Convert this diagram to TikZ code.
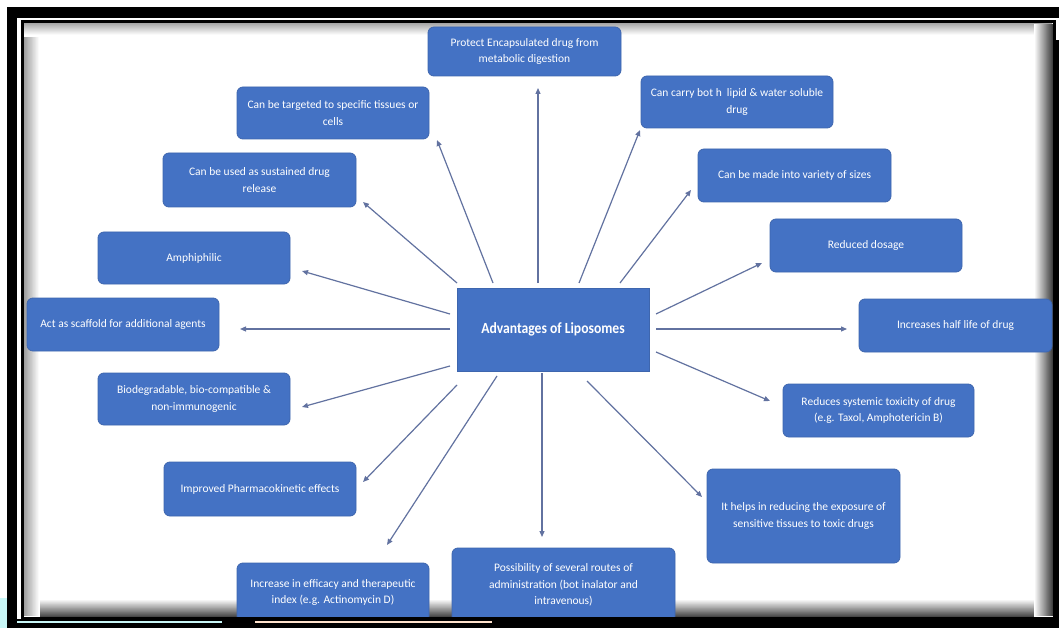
\documentclass[tikz,border=0pt]{standalone}
\usepackage{fontspec}
\setmainfont{Carlito}
\newfontfamily\hubfont{Carlito}[FakeStretch=0.88]
\usetikzlibrary{arrows.meta}
\definecolor{boxblue}{HTML}{4472C4}
\definecolor{boxedge}{HTML}{3E66AE}
\definecolor{arrowc}{HTML}{6272A0}
\definecolor{cyanbg}{HTML}{C8F6F6}
\definecolor{peachbg}{HTML}{FFE2CC}
\tikzset{
  adv/.style={draw=boxedge, line width=0.8pt, fill=boxblue, rounded corners=6pt,
    text=white, align=center, inner sep=2pt,
    font=\fontsize{11.5}{16.5}\selectfont},
  hub/.style={draw=boxedge, line width=0.8pt, fill=boxblue, text=white,
    minimum width=192pt, minimum height=83pt,
    font=\hubfont\fontsize{15.5}{18}\selectfont\bfseries},
  link/.style={draw=arrowc, line width=1.2pt, -{Triangle[length=6pt,width=5pt]}}
}
\begin{document}
\begin{tikzpicture}[x=1pt,y=-1pt]
\useasboundingbox (0,0) rectangle (1059,628);
\fill[white] (0,0) rectangle (1059,628);
% inner shadows drawn as stacked lines
\foreach \k in {0,...,16} {
  \pgfmathtruncatemacro\c{42-\k*42/16}
  \draw[black!\c, line width=1.05pt] (24+\k,24) -- (24+\k,616);
}
\foreach \k in {0,...,12} {
  \pgfmathtruncatemacro\c{35-\k*35/12}
  \draw[black!\c, line width=1.05pt] (24,24+\k) -- (1052,24+\k);
}
\foreach \k in {0,...,18} {
  \pgfmathtruncatemacro\c{75-\k*75/18}
  \draw[black!\c, line width=1.05pt] (1052.5-\k,24) -- (1052.5-\k,616);
}
\foreach \k in {0,...,17} {
  \pgfmathtruncatemacro\c{72-\k*72/17}
  \draw[black!\c, line width=1.05pt] (40,616-\k) -- (1034,616-\k);
}

% center
\node[hub] (ctr) at (553,329.5) {Advantages of Liposomes};

% boxes
\node[adv, minimum width=193pt, minimum height=49pt] (prot) at (524.5,51.5) {Protect Encapsulated drug from\\metabolic digestion};
\node[adv, minimum width=192pt, minimum height=52pt] (targ) at (333,113) {Can be targeted to specific tissues or\\cells};
\node[adv, minimum width=193pt, minimum height=54pt] (sust) at (259.5,180) {Can be used as sustained drug\\release};
\node[adv, minimum width=192pt, minimum height=52pt] (carry) at (737,102) {Can carry bot h\ \ lipid \& water soluble\\drug};
\node[adv, minimum width=193pt, minimum height=53pt] (size) at (794.5,175.5) {Can be made into variety of sizes};
\node[adv, minimum width=192pt, minimum height=53pt] (dose) at (866,245.5) {Reduced dosage};
\node[adv, minimum width=193pt, minimum height=53pt] (half) at (955.5,325.5) {Increases half life of drug};
\node[adv, minimum width=191pt, minimum height=53pt] (tox) at (878.5,410.5) {Reduces systemic toxicity of drug\\(e.g. Taxol, Amphotericin B)};
\node[adv, minimum width=193pt, minimum height=94pt] (expo) at (803.5,516) {It helps in reducing the exposure of\\sensitive tissues to toxic drugs};
\node[adv, minimum width=223pt, minimum height=74pt] (route) at (563.5,585) {Possibility of several routes of\\administration (bot inalator and\\intravenous)};
\node[adv, minimum width=192pt, minimum height=59pt] (effi) at (333,592.5) {Increase in efficacy and therapeutic\\index (e.g. Actinomycin D)};
\node[adv, minimum width=192pt, minimum height=54pt] (pk) at (260,489) {Improved Pharmacokinetic effects};
\node[adv, minimum width=192pt, minimum height=52pt] (bio) at (194,399) {Biodegradable, bio-compatible \&\\non-immunogenic};
\node[adv, minimum width=192pt, minimum height=53pt] (scaf) at (123,324.5) {Act as scaffold for additional agents};
\node[adv, minimum width=192pt, minimum height=52pt] (amph) at (194,258) {Amphiphilic};

% connector end points
\coordinate (s1) at (538,283);  \coordinate (e1) at (538,88);
\coordinate (s2) at (493,283);  \coordinate (e2) at (437,140);
\coordinate (s3) at (457,283);  \coordinate (e3) at (363,202);
\coordinate (s4) at (450,314);  \coordinate (e4) at (302,271);
\coordinate (s5) at (450,329);  \coordinate (e5) at (240,329);
\coordinate (s6) at (450,366);  \coordinate (e6) at (302,407);
\coordinate (s7) at (457,385);  \coordinate (e7) at (363,482);
\coordinate (s8) at (497,376);  \coordinate (e8) at (387,545);
\coordinate (s9) at (542,373);  \coordinate (e9) at (542,537);
\coordinate (s10) at (587,381); \coordinate (e10) at (702,497);
\coordinate (s11) at (656,352); \coordinate (e11) at (770,401);
\coordinate (s12) at (656,329); \coordinate (e12) at (847,329);
\coordinate (s13) at (656,314); \coordinate (e13) at (762,263);
\coordinate (s14) at (620,283); \coordinate (e14) at (691,190);
\coordinate (s15) at (579,283); \coordinate (e15) at (640,130);
\foreach \i in {1,...,15} { \draw[link] (s\i) -- (e\i); }

% frame
\fill[black] (7,7) rectangle (1059,18);
\fill[black] (7,7) rectangle (17,628);
\fill[black] (7,619) rectangle (1059,628);
\fill[black] (1055,40) rectangle (1059,628);
\fill[cyanbg] (0,598) rectangle (7,628);
\fill[cyanbg] (17,620.5) rectangle (222,622.5);
\fill[peachbg] (255,620.5) rectangle (492,622.5);
\draw[black, line width=3pt] (22,22) rectangle (1054.5,618);
\fill[white] (1056,18) rectangle (1059,40);
\end{tikzpicture}
\end{document}
